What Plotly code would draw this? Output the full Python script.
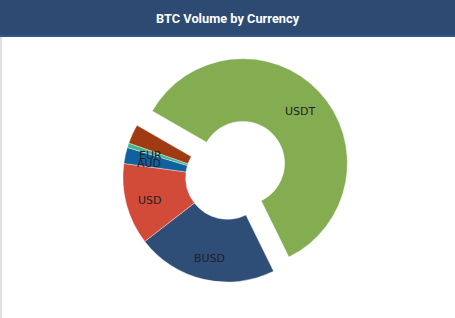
import math
import plotly.graph_objects as go

# ---- data ----
currencies = ["USDT", "BUSD", "USD", "AUD", "EUR", "Other"]
volume_share = [59.4, 21.8, 12.6, 2.5, 0.7, 3.0]
slice_text = ["USDT", "BUSD", "USD", "AUD", "EUR", ""]
slice_colors = ["#84ad52", "#2e4d77", "#d24a38", "#11619f", "#45b38c", "#a03a12"]
slice_pull = [0.2, 0, 0, 0, 0, 0]
title_text = "BTC Volume by Currency"

# ---- layout constants ----
W, H = 455, 318
MT, MB = 52, 15
PH = H - MT - MB
ROT = 300


def py(ypx):
    return (H - MB - ypx) / PH


fig = go.Figure(
    go.Pie(
        labels=currencies,
        values=volume_share,
        textinfo="none",
        marker=dict(colors=slice_colors, line=dict(color="#ffffff", width=0.4)),
        hole=0.4,
        pull=slice_pull,
        sort=False,
        direction="clockwise",
        rotation=ROT,
        showlegend=False,
    )
)

# label annotations from the data (mid-angle of each slice)
R = (PH / 2) / (1 + max(slice_pull))
cx, cy = W / 2, MT + PH / 2
total = sum(volume_share)
annots = []
cum = 0
for lab, v, p in zip(slice_text, volume_share, slice_pull):
    mid = math.radians(ROT + (cum + v / 2) / total * 360)
    cum += v
    if not lab:
        continue
    rr = R * (0.77 + p * 0.95)
    x = cx + rr * math.sin(mid)
    y = cy - rr * math.cos(mid)
    annots.append(dict(text=lab, xref="paper", yref="paper", x=x / W, y=py(y),
                       xanchor="center", yanchor="middle", showarrow=False, yshift=-2.5,
                       font=dict(family="DejaVu Sans, Verdana, sans-serif", size=11, color="#222222")))

shapes = [
    dict(type="rect", xref="paper", yref="paper", x0=0, x1=1, y0=py(35), y1=py(0),
         fillcolor="#2c4a72", line=dict(width=0), layer="above"),
    dict(type="rect", xref="paper", yref="paper", x0=0, x1=1, y0=py(37), y1=py(35),
         fillcolor="#30598c", line=dict(width=0), layer="above"),
    dict(type="line", xref="paper", yref="paper", x0=1 / W, x1=1 / W, y0=py(H), y1=py(37),
         line=dict(color="#d6d6d6", width=1.5), layer="above"),
]

annots.append(dict(text="<b>" + title_text + "</b>", xref="paper", yref="paper", x=0.5, y=py(19),
                   xanchor="center", yanchor="middle", showarrow=False,
                   font=dict(family="Roboto, sans-serif", size=12.8, color="#ffffff")))

fig.update_layout(
    width=W,
    height=H,
    margin=dict(l=0, r=0, t=MT, b=MB),
    paper_bgcolor="#ffffff",
    plot_bgcolor="#ffffff",
    shapes=shapes,
    annotations=annots,
)

fig.write_html("out.html")
